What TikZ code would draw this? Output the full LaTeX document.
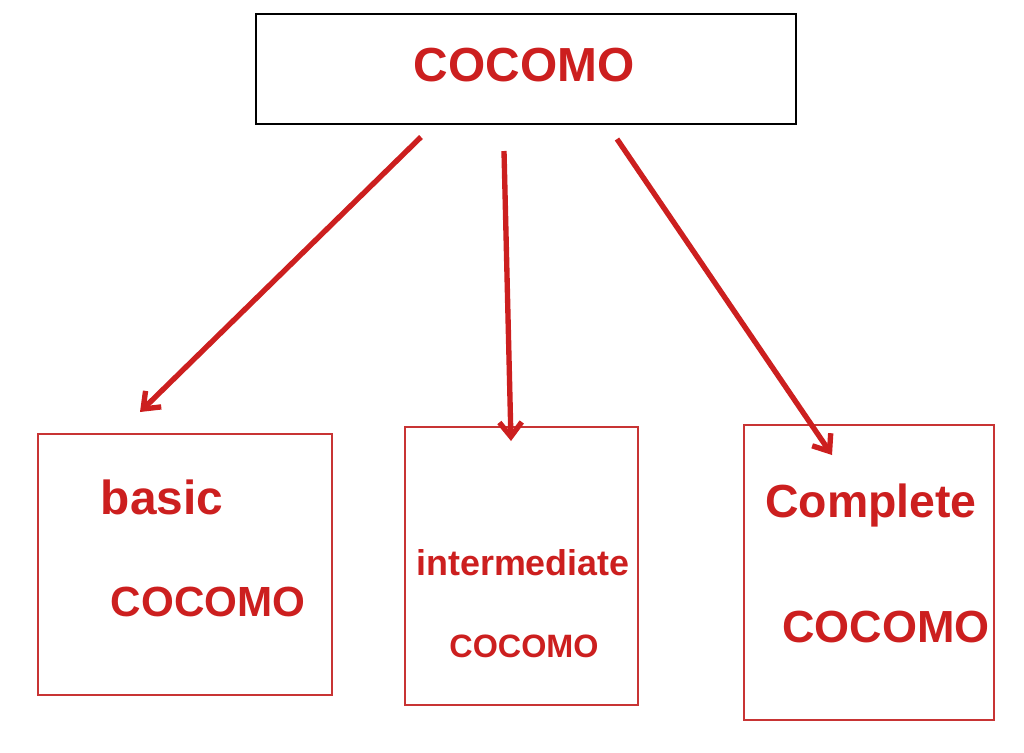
\documentclass[tikz,border=0pt]{standalone}
\usepackage{fontspec}
\setmainfont{Liberation Sans}
\usetikzlibrary{arrows.meta}
\definecolor{cocred}{HTML}{CC1F1F}
\definecolor{boxred}{HTML}{C83434}
\tikzset{
  kind/.style={draw=boxred, line width=1.4pt, inner sep=0pt},
  txt/.style={text=cocred, font=\bfseries\fontsize{#1}{#1}\selectfont, inner sep=0pt},
  link/.style={draw=cocred, line width=3.8pt, -{Straight Barb[length=3.6mm,width=5.6mm,line width=3.8pt]}}
}
\begin{document}
\begin{tikzpicture}[x=0.025cm, y=-0.025cm]
    \useasboundingbox (0,0) rectangle (1024,752);
    % boxes
    \node[draw, line width=1.4pt, inner sep=0pt, minimum width=13.5cm, minimum height=2.75cm] (top) at (526,69) {};
    \node[kind, minimum width=7.35cm, minimum height=6.525cm] (basicbox) at (185,564.5) {};
    \node[kind, minimum width=5.825cm, minimum height=6.95cm] (interbox) at (521.5,566) {};
    \node[kind, minimum width=6.25cm, minimum height=7.375cm] (complbox) at (869,572.5) {};
    % texts
    \node[txt=34pt] (cocomo) at (524,65) {COCOMO};
    \node[txt=34pt] (basic) at (162,497) {basic};
    \node[txt=30pt] (basicb) at (208,602) {COCOMO};
    \node[txt=25.5pt] (inter) at (523,563) {intermediate};
    \node[txt=23pt] (interb) at (524,646) {COCOMO};
    \node[txt=33pt] (compl) at (871,505) {Complete};
    \node[txt=32pt] (complb) at (886,627) {COCOMO};
    % arrow ends
    \coordinate (s1) at (421,137);
    \coordinate (e1) at (140,412);
    \coordinate (s2) at (504,151);
    \coordinate (e2) at (511,441);
    \coordinate (s3) at (617,139);
    \coordinate (e3) at (832,455);
    \draw[link] (s1) -- (e1);
    \draw[link] (s2) -- (e2);
    \draw[link] (s3) -- (e3);
\end{tikzpicture}
\end{document}
